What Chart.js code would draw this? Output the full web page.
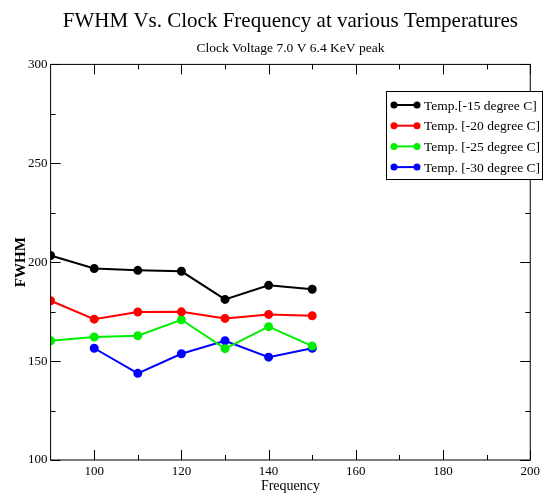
<!DOCTYPE html>
<html>
<head>
<meta charset="utf-8">
<script src="https://cdn.jsdelivr.net/npm/chart.js@4/dist/chart.umd.min.js"></script>
<style>
  html, body { margin: 0; padding: 0; background: #fff; }
  #wrap { width: 544px; height: 495px; }
</style>
</head>
<body>
<div id="wrap"><canvas id="fwhmChart" width="544" height="495"></canvas></div>
<script>
// values
const freq = [90, 100, 110, 120, 130, 140, 150];
const temp15 = [203.4, 196.8, 195.9, 195.4, 181.2, 188.3, 186.3];
const temp20 = [180.5, 171.2, 174.8, 174.9, 171.6, 173.6, 172.9];
const temp25 = [160.3, 162.2, 162.8, 170.9, 156.3, 167.4, 157.6];
const temp30 = [null, 156.5, 143.8, 153.7, 160.3, 152.0, 156.5];

const seriesNames = ['Temp.[-15 degree C]', 'Temp. [-20 degree C]', 'Temp. [-25 degree C]', 'Temp. [-30 degree C]'];
const seriesColors = ['#000000', '#ff0000', '#00ee00', '#0000ff'];

const xTicks = [100, 120, 140, 160, 180, 200];
const xMinorTicks = [110, 130, 150, 170, 190];
const yTicks = [100, 150, 200, 250, 300];
const yMinorTicks = [125, 175, 225, 275];

const serif = '"Liberation Serif", "DejaVu Serif", serif';

function toPoints(vals) {
    return freq.map((f, i) => ({ x: f, y: vals[i] }));
}

const datasets = [temp15, temp20, temp25, temp30].map((vals, i) => ({
    label: seriesNames[i],
    data: toPoints(vals),
    borderColor: seriesColors[i],
    backgroundColor: seriesColors[i],
    borderWidth: 2,
    pointRadius: 3.5,
    pointHoverRadius: 3.5,
    tension: 0,
    spanGaps: false
}));

// frame with inward ticks on all four sides, like the original
const framePlugin = {
    id: 'frame',
    afterDatasetsDraw(chart) {
        const { ctx, chartArea: a, scales } = chart;
        ctx.save();
        ctx.strokeStyle = '#000';
        ctx.lineWidth = 1;
        ctx.strokeRect(a.left, a.top, a.right - a.left, a.bottom - a.top);
        ctx.beginPath();
        const xt = (v, len) => {
            const px = Math.round(scales.x.getPixelForValue(v)) + 0.5;
            ctx.moveTo(px, a.bottom); ctx.lineTo(px, a.bottom - len);
            ctx.moveTo(px, a.top); ctx.lineTo(px, a.top + len);
        };
        const yt = (v, len) => {
            const py = Math.round(scales.y.getPixelForValue(v)) + 0.5;
            ctx.moveTo(a.left, py); ctx.lineTo(a.left + len, py);
            ctx.moveTo(a.right, py); ctx.lineTo(a.right - len, py);
        };
        xTicks.forEach(v => xt(v, 10));
        xMinorTicks.forEach(v => xt(v, 5));
        yTicks.forEach(v => yt(v, 10));
        yMinorTicks.forEach(v => yt(v, 5));
        ctx.stroke();
        ctx.restore();
    }
};

// boxed legend sitting in the upper right, over the frame edge
const boxLegend = {
    id: 'boxLegend',
    afterDraw(chart) {
        const { ctx } = chart;
        const bx = 386.5, by = 91.5, bw = 156, bh = 88;
        ctx.save();
        ctx.fillStyle = '#fff';
        ctx.fillRect(bx, by, bw, bh);
        ctx.strokeStyle = '#000';
        ctx.lineWidth = 1;
        ctx.strokeRect(bx, by, bw, bh);
        ctx.font = '13.5px ' + serif;
        ctx.textBaseline = 'middle';
        chart.data.datasets.forEach((ds, i) => {
            const y = 105 + i * 20.7;
            ctx.strokeStyle = ds.borderColor;
            ctx.fillStyle = ds.borderColor;
            ctx.lineWidth = 2;
            ctx.beginPath();
            ctx.moveTo(394, y); ctx.lineTo(417, y);
            ctx.stroke();
            [394, 417].forEach(px => {
                ctx.beginPath();
                ctx.arc(px, y, 3.5, 0, Math.PI * 2);
                ctx.fill();
            });
            ctx.fillStyle = '#000';
            ctx.fillText(ds.label, 424, y + 1);
        });
        ctx.restore();
    }
};

const ctx = document.getElementById('fwhmChart').getContext('2d');
new Chart(ctx, {
    type: 'line',
    data: { datasets: datasets },
    options: {
        responsive: false,
        animation: false,
        events: [],
        layout: { padding: { left: 0, right: 13, top: 0, bottom: 0 } },
        plugins: {
            legend: { display: false },
            tooltip: { enabled: false },
            title: {
                display: true,
                fullSize: false,
                text: 'FWHM Vs. Clock Frequency at various Temperatures',
                color: '#000',
                font: { family: serif, size: 21, weight: 'normal' },
                padding: { top: 9, bottom: 4 }
            },
            subtitle: {
                display: true,
                fullSize: false,
                text: 'Clock Voltage 7.0 V 6.4 KeV peak',
                color: '#000',
                font: { family: serif, size: 13.5, weight: 'normal' },
                padding: { top: 2, bottom: 8 }
            }
        },
        scales: {
            x: {
                type: 'linear',
                min: 90,
                max: 200,
                afterBuildTicks: axis => { axis.ticks = xTicks.map(v => ({ value: v })); },
                afterFit: axis => { axis.height = 35; },
                grid: { display: false, drawTicks: false },
                border: { display: false },
                ticks: { color: '#000', padding: 4, maxRotation: 0, font: { family: serif, size: 13 } },
                title: {
                    display: true,
                    text: 'Frequency',
                    color: '#000',
                    padding: { top: 1, bottom: 0 },
                    font: { family: serif, size: 14 }
                }
            },
            y: {
                min: 100,
                max: 300,
                afterBuildTicks: axis => { axis.ticks = yTicks.map(v => ({ value: v })); },
                afterFit: axis => { axis.width = 50.6; },
                grid: { display: false, drawTicks: false },
                border: { display: false },
                ticks: { color: '#000', padding: 3, font: { family: serif, size: 13 } },
                title: {
                    display: true,
                    text: 'FWHM',
                    color: '#000',
                    padding: { top: 12, bottom: 0 },
                    font: { family: serif, size: 15, weight: 'bold' }
                }
            }
        }
    },
    plugins: [framePlugin, boxLegend]
});
</script>
</body>
</html>
